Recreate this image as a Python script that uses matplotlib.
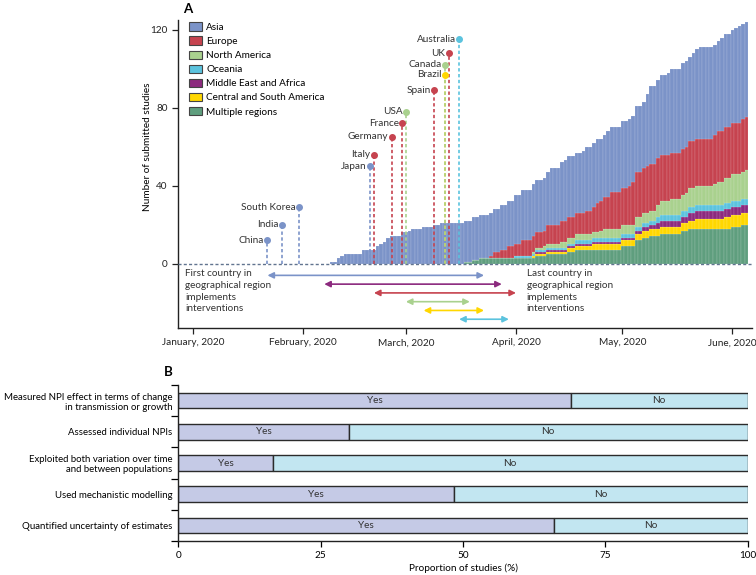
import numpy as np
import pandas as pd
import matplotlib
matplotlib.use('Agg')
import matplotlib.pyplot as plt
import matplotlib.dates as mdates
from matplotlib.patches import Patch

plt.rcParams['font.family'] = ['Lato', 'DejaVu Sans']
FS = 7.2
plt.rcParams['font.size'] = FS

# ---------------- Panel A data ----------------
start_date = '2020-02-09'
end_date = '2020-06-05'

asia = [1, 1, 3, 4, 5, 5, 5, 5, 5, 7,
        7, 7, 7, 9, 10, 11, 13, 14, 14, 14,
        16, 16, 17, 18, 18, 18, 19, 19, 19, 20,
        20, 21, 21, 21, 21, 21, 21, 21,
        21, 21, 22, 22, 22, 22, 22, 22, 22, 22,
        23, 23, 23, 23, 25, 25, 26, 26, 26, 27,
        27, 27, 27, 27, 29, 29, 29, 30, 31, 31,
        31, 31, 31, 32, 33, 33, 33, 33, 32, 32,
        34, 33, 33, 33, 34, 34, 34, 34, 34, 34,
        34, 37, 40, 40, 40, 41, 41, 42, 43, 43,
        43, 44, 44, 43, 45, 46, 47, 47, 47, 47,
        46, 46, 48, 48, 48, 48, 49, 50, 49, 49]

pre = [0] * 38  # days before any non-Asian study

multiple = pre + [1, 1, 2, 2, 3, 3, 3, 3, 3, 3,
                  3, 3, 3, 3, 3, 3, 3, 3, 3, 3,
                  4, 4, 4, 5, 5, 5, 5, 5, 5, 6,
                  6, 7, 7, 7, 7, 7, 7, 7, 7, 7,
                  7, 7, 7, 7, 9, 9, 9, 9, 12, 12,
                  13, 13, 14, 14, 14, 15, 15, 15, 15, 15,
                  15, 17, 17, 18, 18, 18, 18, 18, 18, 18,
                  18, 18, 18, 18, 18, 19, 19, 19, 20, 20]

central_south = pre + [0, 0, 0, 0, 0, 0, 0, 0, 0, 0,
                       0, 0, 0, 0, 0, 0, 0, 0, 0, 1,
                       1, 1, 1, 1, 1, 1, 1, 1, 1, 2,
                       2, 2, 2, 2, 2, 2, 3, 3, 3, 3,
                       3, 3, 3, 3, 3, 3, 3, 3, 3, 3,
                       4, 4, 4, 4, 4, 4, 4, 4, 4, 4,
                       4, 4, 4, 4, 4, 5, 5, 5, 5, 5,
                       5, 5, 5, 6, 6, 6, 6, 6, 6, 6]

mideast_africa = pre + [0, 0, 0, 0, 0, 0, 0, 0, 0, 0,
                        0, 0, 0, 0, 0, 0, 0, 0, 0, 0,
                        1, 1, 1, 1, 1, 1, 1, 1, 1, 1,
                        1, 1, 1, 1, 1, 1, 1, 1, 1, 1,
                        1, 1, 1, 1, 1, 1, 1, 1, 2, 2,
                        2, 2, 2, 2, 3, 3, 3, 3, 3, 3,
                        3, 3, 3, 4, 4, 4, 4, 4, 4, 4,
                        4, 4, 4, 4, 4, 4, 4, 4, 4, 4]

oceania = pre + [0, 0, 0, 0, 0, 0, 0, 0, 0, 0,
                 0, 0, 0, 0, 1, 1, 1, 1, 1, 1,
                 1, 1, 1, 1, 1, 1, 1, 1, 1, 1,
                 1, 2, 2, 2, 2, 2, 2, 2, 2, 2,
                 2, 2, 2, 2, 2, 2, 2, 2, 2, 2,
                 2, 2, 2, 2, 3, 3, 3, 3, 3, 3,
                 3, 3, 3, 3, 3, 3, 3, 3, 3, 3,
                 3, 3, 3, 3, 3, 3, 3, 3, 3, 3]

north_america = pre + [0, 0, 0, 0, 0, 0, 0, 0, 0, 0,
                       0, 0, 0, 0, 0, 0, 0, 0, 0, 1,
                       1, 1, 2, 2, 2, 2, 2, 3, 3, 3,
                       3, 3, 3, 3, 3, 3, 3, 3, 4, 5,
                       5, 5, 5, 5, 5, 5, 5, 5, 5, 5,
                       5, 5, 5, 5, 6, 7, 7, 7, 8, 8,
                       8, 8, 9, 10, 10, 10, 10, 10, 10, 10,
                       11, 12, 12, 13, 13, 14, 14, 14, 14, 15]

europe = pre + [0, 0, 0, 0, 0, 0, 0, 1, 3, 3,
                4, 4, 6, 6, 6, 6, 8, 8, 8, 8,
                8, 8, 8, 10, 10, 10, 10, 11, 11, 11,
                11, 11, 11, 11, 12, 12, 13, 15, 15, 16,
                16, 19, 19, 19, 19, 19, 20, 22, 23, 23,
                23, 24, 24, 24, 24, 24, 24, 24, 24, 24,
                24, 24, 24, 24, 24, 24, 24, 24, 24, 24,
                25, 26, 26, 26, 26, 26, 26, 26, 27, 27]

region_names = ['Asia', 'Europe', 'North America', 'Oceania',
                'Middle East and Africa', 'Central and South America',
                'Multiple regions']
region_colors = ['#7b93c8', '#c6434f', '#a9d18e', '#5bc3de',
                 '#8c2a7e', '#ffd700', '#5f9e7e']

countries = ['China', 'India', 'South Korea', 'Japan', 'Italy', 'Germany',
             'France', 'USA', 'Spain', 'Brazil', 'Canada', 'UK', 'Australia']
country_dates = ['2020-01-22', '2020-01-26', '2020-01-31', '2020-02-20',
                 '2020-02-21', '2020-02-26', '2020-02-29', '2020-03-01',
                 '2020-03-09', '2020-03-12', '2020-03-12', '2020-03-13',
                 '2020-03-16']
country_levels = [12, 20, 29, 50, 56, 65, 72, 78, 89, 97, 102, 108, 115]
country_region = ['Asia', 'Asia', 'Asia', 'Asia', 'Europe', 'Europe',
                  'Europe', 'North America', 'Europe',
                  'Central and South America', 'North America', 'Europe',
                  'Oceania']

arrow_regions = ['Asia', 'Middle East and Africa', 'Europe', 'North America',
                 'Central and South America', 'Oceania']
arrow_first = ['2020-01-22', '2020-02-07', '2020-02-21', '2020-03-01',
               '2020-03-06', '2020-03-16']
arrow_last = ['2020-03-23', '2020-03-28', '2020-04-01', '2020-03-19',
              '2020-03-23', '2020-03-30']

# ---------------- Panel B data ----------------
questions = ['Measured NPI effect in terms of change\nin transmission or growth',
             'Assessed individual NPIs',
             'Exploited both variation over time\nand between populations',
             'Used mechanistic modelling',
             'Quantified uncertainty of estimates']
yes_pct = [68.9, 29.9, 16.6, 48.4, 66.0]

# ---------------- Figure ----------------
fig = plt.figure(figsize=(7.56, 5.75), dpi=100)
W, H = 756, 575
axA = fig.add_axes([178 / W, 1 - 328 / H, (752 - 178) / W, (328 - 20) / H])
axB = fig.add_axes([178.3 / W, 1 - 541 / H, (747.7 - 178.3) / W, (541 - 385) / H])

col = dict(zip(region_names, region_colors))
dates = pd.date_range(start_date, end_date, freq='D')
x = mdates.date2num(dates)

stack = [('Multiple regions', multiple),
         ('Central and South America', central_south),
         ('Middle East and Africa', mideast_africa),
         ('Oceania', oceania),
         ('North America', north_america),
         ('Europe', europe),
         ('Asia', asia)]
bottom = np.zeros(len(x))
for name, vals in stack:
    vals = np.asarray(vals, dtype=float)
    axA.bar(x, vals, bottom=bottom, width=1.0, color=col[name],
            edgecolor=(1, 1, 1, 0.45), linewidth=0.2, zorder=2)
    bottom += vals

axA.axhline(0, color='#61748f', lw=1.0, ls=(0, (2.2, 1.6)), zorder=4)

for name, d, lev, reg in zip(countries, country_dates, country_levels, country_region):
    xd = mdates.date2num(pd.Timestamp(d))
    c = col[reg]
    axA.plot([xd, xd], [0, lev], color=c, lw=1.2, ls=(0, (2, 1.5)), zorder=3)
    axA.plot([xd], [lev], 'o', color=c, ms=4, zorder=5)
    axA.text(xd - 1.0, lev, name, ha='right', va='center', fontsize=FS,
             color='#333333')

arrow_y = [-6, -10.5, -15, -19.5, -24, -28.5]
for reg, a, b, yy in zip(arrow_regions, arrow_first, arrow_last, arrow_y):
    xa = mdates.date2num(pd.Timestamp(a))
    xb = mdates.date2num(pd.Timestamp(b))
    axA.annotate('', xy=(xb, yy), xytext=(xa, yy),
                 arrowprops=dict(arrowstyle='<|-|>', color=col[reg], lw=1.2,
                                 mutation_scale=9, shrinkA=0, shrinkB=0),
                 annotation_clip=False)

axA.text(0.013, 0.19, 'First country in\ngeographical region\nimplements\ninterventions',
         transform=axA.transAxes, ha='left', va='top', fontsize=FS,
         linespacing=1.38, color='#333333')
axA.text(0.6075, 0.19, 'Last country in\ngeographical region\nimplements\ninterventions',
         transform=axA.transAxes, ha='left', va='top', fontsize=FS,
         linespacing=1.38, color='#333333')

axA.set_xlim(mdates.date2num(pd.Timestamp('2019-12-27 19:00')),
             mdates.date2num(pd.Timestamp('2020-06-06 12:00')))
axA.set_ylim(-33, 125)
axA.set_yticks([0, 40, 80, 120])
axA.xaxis.set_major_locator(mdates.MonthLocator())
axA.xaxis.set_major_formatter(mdates.DateFormatter('%B, %Y'))
axA.tick_params(axis='both', labelsize=FS, length=4, width=0.9, colors='#222222')
axA.spines['top'].set_visible(False)
axA.spines['right'].set_visible(False)
for s in ['left', 'bottom']:
    axA.spines[s].set_linewidth(1.0)
    axA.spines[s].set_color('#222222')
axA.set_ylabel('Number of submitted studies', fontsize=FS)
axA.yaxis.set_label_coords(-0.046, 0.59)

handles = [Patch(facecolor=col[n], edgecolor='#444444', linewidth=0.8) for n in region_names]
axA.legend(handles, region_names, loc='upper left', bbox_to_anchor=(0.008, 1.012),
           frameon=False, fontsize=FS, handlelength=1.35, handleheight=0.9,
           labelspacing=0.45, handletextpad=0.4, borderaxespad=0.2)

fig.text(183 / W, 1 - 9 / H, 'A', fontsize=9.5, fontweight='bold', ha='left', va='center')
fig.text(164 / W, 1 - 372 / H, 'B', fontsize=9.5, fontweight='bold', ha='left', va='center')

# ---------------- Panel B ----------------
ypos = np.arange(len(questions))[::-1]
yes = np.asarray(yes_pct)
no = 100 - yes
axB.barh(ypos, yes, height=0.5, color='#c5cae6', edgecolor='#2b2b2b', linewidth=1.0)
axB.barh(ypos, no, left=yes, height=0.5, color='#c2e6f1', edgecolor='#2b2b2b', linewidth=1.0)
for yp, yv, nv in zip(ypos, yes, no):
    axB.text(yv / 2, yp, 'Yes', ha='center', va='center', fontsize=FS, color='#333333')
    axB.text(yv + nv / 2, yp, 'No', ha='center', va='center', fontsize=FS, color='#333333')

axB.set_xlim(0, 100)
axB.set_ylim(-0.5, len(questions) - 0.5)
axB.set_yticks(ypos)
axB.set_yticklabels(questions, fontsize=6.9)
axB.set_yticks(np.arange(-0.5, len(questions), 1.0), minor=True)
axB.tick_params(axis='y', which='major', length=0, pad=4)
axB.tick_params(axis='y', which='minor', length=5, width=0.9)
axB.set_xticks([0, 25, 50, 75, 100])
axB.tick_params(axis='x', labelsize=FS, length=4, width=0.9)
axB.spines['top'].set_visible(False)
axB.spines['right'].set_visible(False)
for s in ['left', 'bottom']:
    axB.spines[s].set_linewidth(1.0)
    axB.spines[s].set_color('#222222')
axB.set_xlabel('Proportion of studies (%)', fontsize=FS, labelpad=2)

fig.savefig('out.png', dpi=100)
